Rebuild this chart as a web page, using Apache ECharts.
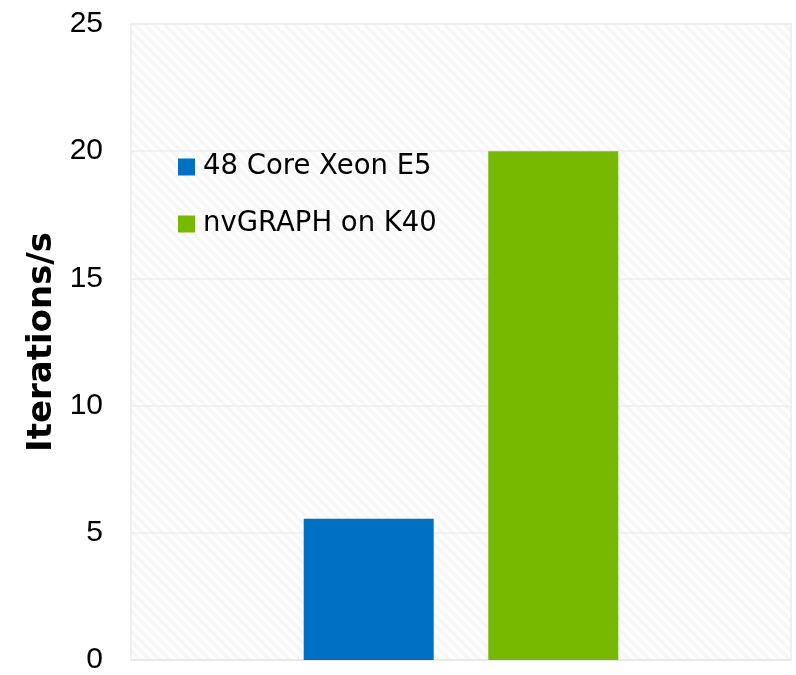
<!DOCTYPE html>
<html><head><meta charset="utf-8">
<script src="https://cdn.jsdelivr.net/npm/echarts@6/dist/echarts.min.js"></script>
<style>html,body{margin:0;padding:0;background:#fff}#c{width:796px;height:675px}</style>
</head><body><div id="c"></div>
<script>
const categories = ['PageRank'];
const seriesNames = ['48 Core Xeon E5', 'nvGRAPH on K40'];
const xeonValues = [5.55];
const nvgraphValues = [20.0];
const yTicks = [0, 5, 10, 15, 20, 25];

const P = 10;
const pc = document.createElement('canvas');
pc.width = P; pc.height = P;
const g = pc.getContext('2d');
g.fillStyle = '#ffffff'; g.fillRect(0,0,P,P);
g.strokeStyle = '#f6f6f6'; g.lineWidth = 3.5;
for (let k=-2;k<=2;k++){ g.beginPath(); g.moveTo(k*P-2,-2); g.lineTo(k*P+P+2,P+2); g.stroke(); }

const chart = echarts.init(document.getElementById('c'), null, {renderer:'canvas'});
const lfont = '"DejaVu Sans", sans-serif';
const afont = '"Liberation Sans", Arial, sans-serif';
chart.setOption({
  animation:false,
  grid:{left:131,right:5,top:24,bottom:12,show:true,borderColor:'#ececec',borderWidth:1.5,
        backgroundColor:{image:pc,repeat:'repeat'}},
  legend:{orient:'vertical',left:178,top:151,padding:0,itemWidth:17,itemHeight:17,itemGap:25,
          icon:'rect',textStyle:{fontSize:27.5,lineHeight:32,fontFamily:lfont,color:'#000',padding:[0,0,0,3]},
          data:seriesNames},
  xAxis:{type:'category',data:categories,axisLabel:{show:false},axisTick:{show:false},
         axisLine:{show:true,lineStyle:{color:'#e8e8e8',width:1.5}}},
  yAxis:{type:'value',min:0,max:25,interval:5,
         name:'Iterations/s',nameLocation:'middle',nameGap:72,
         nameTextStyle:{fontSize:34,fontWeight:'bold',fontFamily:lfont,color:'#000'},
         axisLabel:{fontSize:30,fontFamily:afont,color:'#000',margin:28,
                    formatter:v=>yTicks.includes(v)?String(v):''},
         splitLine:{lineStyle:{color:'#ededed',width:1.5}},
         axisLine:{show:false},axisTick:{show:false}},
  series:[
    {name:seriesNames[0],type:'bar',data:xeonValues,barWidth:130,barGap:'42%',itemStyle:{color:'#0070c4'}},
    {name:seriesNames[1],type:'bar',data:nvgraphValues,barWidth:130,itemStyle:{color:'#76b900'}}
  ]
});
</script></body></html>
